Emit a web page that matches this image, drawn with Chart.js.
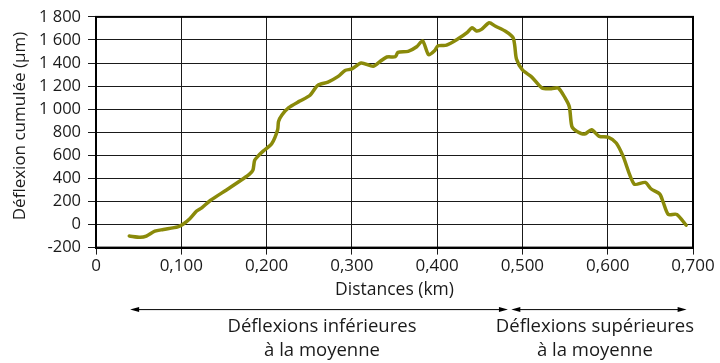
<!DOCTYPE html>
<html>
<head>
    <title>Déflexion cumulée</title>
    <script src="https://cdn.jsdelivr.net/npm/chart.js@4"></script>
    <style>
        html, body {
            margin: 0;
            padding: 0;
            background: #fff;
        }

        .chart {
            width: 720px;
            height: 363px;
        }
    </style>
</head>
<body>
<div class="chart">
    <canvas id="deflexion-chart"></canvas>
</div>

<script>
    // distances (km) et déflexion cumulée (µm)
    const distances = [0.039, 0.052, 0.059, 0.069, 0.079, 0.096, 0.102, 0.110, 0.118, 0.124, 0.134,
        0.153, 0.173, 0.180, 0.184, 0.186, 0.190, 0.196, 0.206, 0.213, 0.214, 0.218, 0.226, 0.239,
        0.251, 0.260, 0.272, 0.284, 0.292, 0.300, 0.311, 0.325, 0.333, 0.341, 0.351, 0.354, 0.366,
        0.376, 0.383, 0.390, 0.397, 0.401, 0.411, 0.425, 0.435, 0.441, 0.446, 0.452, 0.461, 0.468,
        0.481, 0.489, 0.491, 0.493, 0.500, 0.511, 0.523, 0.534, 0.542, 0.550, 0.555, 0.558, 0.564,
        0.573, 0.581, 0.590, 0.601, 0.610, 0.618, 0.631, 0.644, 0.651, 0.661, 0.665, 0.671, 0.681,
        0.692];
    const deflexions = [-100, -111, -100, -57, -43, -20, 3, 51, 117, 145, 208,
        300, 399, 437, 471, 556, 593, 636, 700, 822, 893, 950, 1013, 1070,
        1121, 1207, 1235, 1284, 1336, 1349, 1401, 1372, 1413, 1452, 1455, 1492, 1501,
        1541, 1592, 1472, 1507, 1550, 1555, 1612, 1663, 1706, 1678, 1692, 1749, 1721,
        1672, 1621, 1550, 1435, 1340, 1278, 1184, 1178, 1184, 1098, 1021, 850, 807,
        784, 822, 765, 756, 707, 593, 351, 365, 308, 265, 194, 88, 88,
        -6];

    const xTicks = [0, 0.1, 0.2, 0.3, 0.4, 0.5, 0.6, 0.7];
    const yTicks = [-200, 0, 200, 400, 600, 800, 1000, 1200, 1400, 1600, 1800];

    const yTitle = 'Déflexion cumulée (µm)';

    // zones sous l'axe : de / à (km), texte
    const zones = [
        {from: 0.040, to: 0.483, center: 0.265, lines: ['Déflexions inférieures', 'à la moyenne']},
        {from: 0.487, to: 0.6925, center: 0.585, lines: ['Déflexions supérieures', 'à la moyenne']}
    ];

    const FONT = "'Open Sans', sans-serif";
    const INK = '#1a1a1a';

    function formatThousands(v) {
        const s = String(Math.abs(v));
        const out = s.replace(/\B(?=(\d{3})+(?!\d))/g, ' ');
        return (v < 0 ? '-' : '') + out;
    }

    const annotations = {
        id: 'annotations',
        afterDraw(chart) {
            const c = chart.ctx;
            const area = chart.chartArea;
            const x = chart.scales.x;

            // cadre
            c.save();
            c.strokeStyle = '#000';
            c.lineWidth = 2;
            c.strokeRect(area.left, area.top, area.right - area.left, area.bottom - area.top);

            // titre de l'axe y
            c.save();
            c.translate(20.5, 126);
            c.rotate(-Math.PI / 2);
            c.fillStyle = INK;
            c.font = '17px ' + FONT;
            c.textAlign = 'center';
            c.textBaseline = 'middle';
            c.fillText(yTitle, 0, 0);
            c.restore();

            const arrowY = area.bottom + 62;
            c.lineWidth = 1;
            zones.forEach(z => {
                const x1 = x.getPixelForValue(z.from);
                const x2 = x.getPixelForValue(z.to);
                c.fillStyle = '#000';
                c.beginPath();
                c.moveTo(x1 + 6, arrowY);
                c.lineTo(x2 - 6, arrowY);
                c.stroke();
                // pointes
                c.beginPath();
                c.moveTo(x1, arrowY);
                c.lineTo(x1 + 9, arrowY - 2.5);
                c.lineTo(x1 + 9, arrowY + 2.5);
                c.closePath();
                c.fill();
                c.beginPath();
                c.moveTo(x2, arrowY);
                c.lineTo(x2 - 9, arrowY - 2.5);
                c.lineTo(x2 - 9, arrowY + 2.5);
                c.closePath();
                c.fill();

                c.fillStyle = INK;
                c.font = '18.5px ' + FONT;
                c.textAlign = 'center';
                c.textBaseline = 'middle';
                const cx = x.getPixelForValue(z.center);
                z.lines.forEach((t, i) => {
                    c.fillText(t, cx, arrowY + 17 + i * 24);
                });
            });
            c.restore();
        }
    };

    const ctx = document.getElementById('deflexion-chart').getContext('2d');
    const chart = new Chart(ctx, {
        type: 'line',
        data: {
            datasets: [{
                label: 'Déflexion cumulée',
                data: distances.map((d, i) => ({x: d, y: deflexions[i]})),
                borderColor: '#8a8a0a',
                borderWidth: 3.5,
                borderCapStyle: 'round',
                borderJoinStyle: 'round',
                tension: 0.25,
                pointRadius: 0,
                fill: false
            }]
        },
        options: {
            responsive: true,
            maintainAspectRatio: false,
            animation: false,
            layout: {
                padding: {left: 0, top: 14, right: 27, bottom: 58}
            },
            plugins: {
                legend: {display: false},
                tooltip: {enabled: false}
            },
            scales: {
                x: {
                    type: 'linear',
                    min: 0,
                    max: 0.7,
                    afterBuildTicks: scale => {
                        scale.ticks = xTicks.map(v => ({value: v}));
                    },
                    afterFit: scale => {
                        scale.height = 57.4;
                    },
                    ticks: {
                        color: INK,
                        font: {family: FONT, size: 17},
                        padding: 1,
                        maxRotation: 0,
                        callback: v => v === 0 ? '0' : v.toFixed(3).replace('.', ',')
                    },
                    grid: {
                        color: INK,
                        lineWidth: 1,
                        tickLength: 7
                    },
                    border: {color: '#000', width: 2},
                    title: {
                        display: true,
                        text: 'Distances (km)',
                        color: INK,
                        font: {family: FONT, size: 17.5}
                    }
                },
                y: {
                    min: -200,
                    max: 1800,
                    afterBuildTicks: scale => {
                        scale.ticks = yTicks.map(v => ({value: v}));
                    },
                    afterFit: scale => {
                        scale.width = 96;
                    },
                    ticks: {
                        color: INK,
                        font: {family: FONT, size: 16.5},
                        padding: 7,
                        callback: v => formatThousands(v)
                    },
                    grid: {
                        color: INK,
                        lineWidth: 1,
                        tickLength: 8
                    },
                    border: {color: '#000', width: 2}
                }
            }
        },
        plugins: [annotations]
    });
</script>
</body>
</html>
